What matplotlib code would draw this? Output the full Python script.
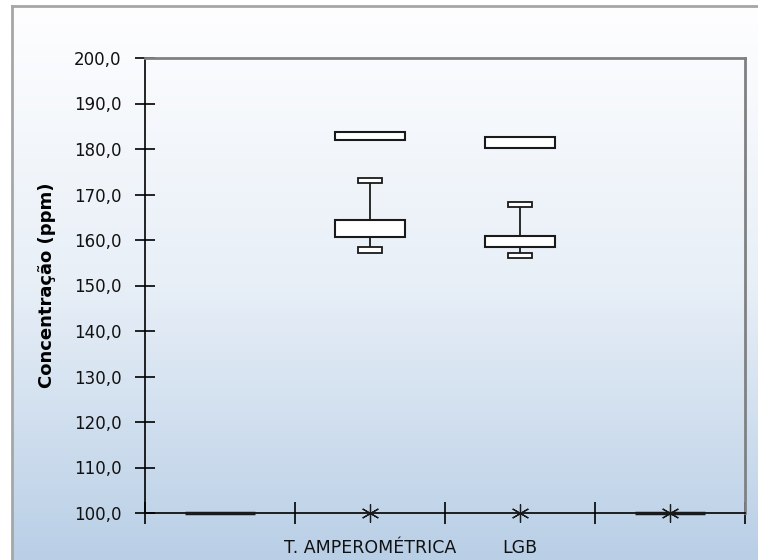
import numpy as np
import matplotlib
matplotlib.use("Agg")
import matplotlib.pyplot as plt
from matplotlib.patches import Rectangle
from matplotlib.colors import LinearSegmentedColormap

# ---- data ----
categories = ['', 'T. AMPEROMÉTRICA', 'LGB', '']
box_low = [100.0, 160.7, 158.5, 100.0]
box_high = [100.0, 164.4, 160.9, 100.0]
whisker_low = [np.nan, 157.8, 156.6, np.nan]
whisker_high = [np.nan, 173.1, 167.8, np.nan]
top_low = [np.nan, 181.9, 180.3, np.nan]
top_high = [np.nan, 183.7, 182.6, np.nan]
star_values = [np.nan, 100.0, 100.0, 100.0]
yticks = [100, 110, 120, 130, 140, 150, 160, 170, 180, 190, 200]

W, H = 758, 560
fig = plt.figure(figsize=(W / 100, H / 100), dpi=100)
fig.patch.set_facecolor('white')

# gradient background inside chart frame
fx0, fy0 = 12 / W, 0.0
fx1, fy1 = 1.0, (H - 6) / H
bg = fig.add_axes([fx0, fy0, fx1 - fx0, fy1 - fy0], zorder=0)
cmap = LinearSegmentedColormap.from_list('g', ['#fefeff', '#e8eff7', '#b9cfe6'])
grad = np.linspace(0, 1, 256).reshape(-1, 1)
bg.imshow(grad, aspect='auto', cmap=cmap, extent=[0, 1, 0, 1], origin='upper')
bg.set_xlim(0, 1); bg.set_ylim(0, 1)
bg.set_xticks([]); bg.set_yticks([])
for s in ['right', 'bottom']:
    bg.spines[s].set_visible(False)
for s in ['left', 'top']:
    bg.spines[s].set_color('#a6a6a6')
    bg.spines[s].set_linewidth(2)

ax = fig.add_axes([145 / W, (H - 513) / H, 600 / W, 455 / H], zorder=1)
ax.patch.set_alpha(0)
ax.set_xlim(0, 4)
ax.set_ylim(100, 200)

edge = '#1a1a1a'
box_w = 0.467
cap_w = 0.16
cap_h = 1.2
x = np.arange(len(categories)) + 0.5

for i, xc in enumerate(x):
    lo, hi = box_low[i], box_high[i]
    if not np.isnan(whisker_low[i]):
        ax.plot([xc, xc], [whisker_low[i], whisker_high[i]], color=edge, lw=1.3, zorder=2, clip_on=False)
        for wv in (whisker_low[i], whisker_high[i]):
            ax.add_patch(Rectangle((xc - cap_w / 2, wv - cap_h / 2), cap_w, cap_h,
                                   facecolor='white', edgecolor=edge, lw=1.3, zorder=3))
    if hi - lo > 0:
        ax.add_patch(Rectangle((xc - box_w / 2, lo), box_w, hi - lo,
                               facecolor='white', edgecolor=edge, lw=1.5, zorder=3))
    else:
        ax.plot([xc - box_w / 2, xc + box_w / 2], [lo, lo], color=edge, lw=2.5,
                zorder=4, clip_on=False, solid_capstyle='butt')
    if not np.isnan(top_low[i]):
        ax.add_patch(Rectangle((xc - box_w / 2, top_low[i]), box_w, top_high[i] - top_low[i],
                               facecolor='white', edgecolor=edge, lw=1.5, zorder=3))

ax.plot(x, star_values, linestyle='none', marker=(6, 2, 0), markersize=13,
        markeredgewidth=0.9, color=edge, zorder=5, clip_on=False)

# axes styling
for s in ['top', 'right']:
    ax.spines[s].set_color('#808080')
    ax.spines[s].set_linewidth(2)
for s in ['left', 'bottom']:
    ax.spines[s].set_color('#000000')
    ax.spines[s].set_linewidth(1.2)

ax.set_yticks(yticks)
ax.set_yticklabels([f'{v:.1f}'.replace('.', ',') for v in yticks])
ax.tick_params(axis='y', direction='inout', length=14, width=1.2, labelsize=12,
               pad=10, colors='black', labelcolor='#111111')
ax.set_xticks(np.arange(0, 5))
ax.set_xticklabels([])
ax.set_xticks(x, minor=True)
ax.set_xticklabels(categories, minor=True)
ax.tick_params(axis='x', which='major', direction='inout', length=16, width=1.2)
ax.tick_params(axis='x', which='minor', length=0, labelsize=12.5, pad=19,
               labelcolor='#111111')

ax.set_ylabel('Concentração (ppm)', fontsize=13, fontweight='bold', labelpad=13)

fig.savefig('out.png', dpi=100)
